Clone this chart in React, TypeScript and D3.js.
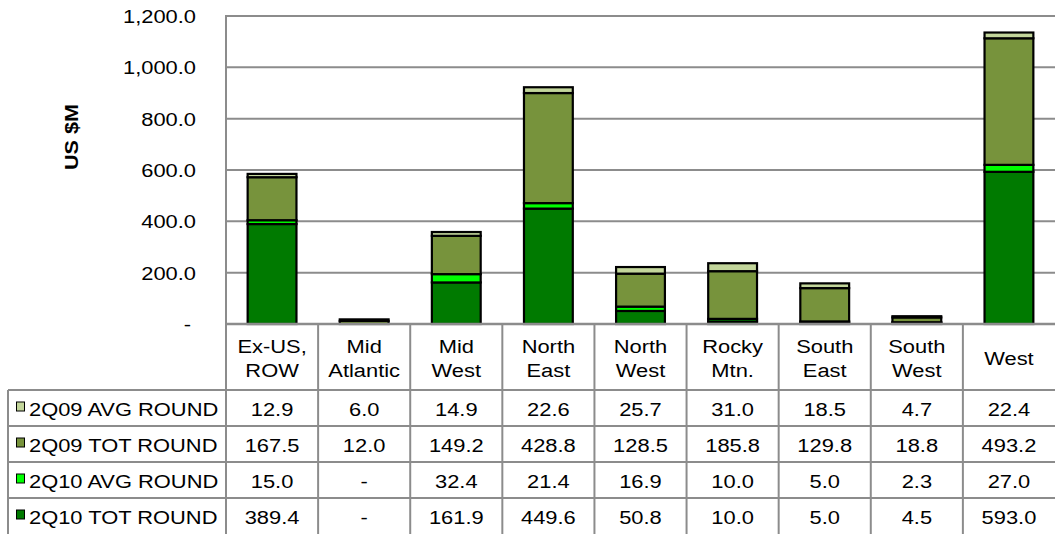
import React from "react";
import * as d3 from "d3";

const categories = [["Ex-US,", "ROW"], ["Mid", "Atlantic"], ["Mid", "West"], ["North", "East"], ["North", "West"], ["Rocky", "Mtn."], ["South", "East"], ["South", "West"], ["West"]];
const seriesNames = ["2Q10 TOT ROUND", "2Q10 AVG ROUND", "2Q09 TOT ROUND", "2Q09 AVG ROUND"];
const tot2Q10 = [389.4, 0, 161.9, 449.6, 50.8, 10.0, 5.0, 4.5, 593.0];
const avg2Q10 = [15.0, 0, 32.4, 21.4, 16.9, 10.0, 5.0, 2.3, 27.0];
const tot2Q09 = [167.5, 12.0, 149.2, 428.8, 128.5, 185.8, 129.8, 18.8, 493.2];
const avg2Q09 = [12.9, 6.0, 14.9, 22.6, 25.7, 31.0, 18.5, 4.7, 22.4];
const colors = ["#007A00", "#00FF00", "#77933C", "#C3D69B"];
const yTicks = [0, 200, 400, 600, 800, 1000, 1200];
const tableText2Q10Tot = ["389.4", "-", "161.9", "449.6", "50.8", "10.0", "5.0", "4.5", "593.0"];
const tableText2Q10Avg = ["15.0", "-", "32.4", "21.4", "16.9", "10.0", "5.0", "2.3", "27.0"];

const SX = 1.14;
const FS = 19.2;

function T({ x, y, anchor = "start", children, size = FS, weight = "normal" }: any) {
  return (
    <text transform={`translate(${x},${y}) scale(${SX},1)`} textAnchor={anchor} fontSize={size} fontWeight={weight} fill="#000">
      {children}
    </text>
  );
}

export default function App() {
  const W = 1055, H = 534;
  const left = 226, right = 1055, top = 16, bottom = 324;
  const font = "'Liberation Sans', Arial, sans-serif";
  const x = d3.scaleBand().domain(categories.map((_, i) => String(i))).range([left, right]).paddingInner(0).paddingOuter(0);
  const y = d3.scaleLinear().domain([0, 1200]).range([bottom, top]);
  const data = categories.map((_, i) => ({ a: tot2Q10[i], b: avg2Q10[i], c: tot2Q09[i], d: avg2Q09[i] }));
  const stack = d3.stack<any>().keys(["a", "b", "c", "d"]);
  const layers = stack(data);
  const bw = x.bandwidth() * 0.53;
  const fmt = (v: number) => (v === 0 ? "-" : d3.format(",.1f")(v));

  const rowsY = [390, 426, 462, 498, 534];
  const tableRows = [
    { name: seriesNames[3], color: colors[3], vals: avg2Q09.map((v) => v.toFixed(1)) },
    { name: seriesNames[2], color: colors[2], vals: tot2Q09.map((v) => v.toFixed(1)) },
    { name: seriesNames[1], color: colors[1], vals: tableText2Q10Avg },
    { name: seriesNames[0], color: colors[0], vals: tableText2Q10Tot },
  ];
  const grid = "#8C8C8C";

  return (
    <svg width={W} height={H} style={{ position: "absolute", left: 0, top: 0, background: "#fff" }} fontFamily={font}>
      {yTicks.filter((t) => t > 0).map((t) => (
        <line key={t} x1={left} x2={right} y1={y(t)} y2={y(t)} stroke={grid} strokeWidth={2} />
      ))}
      <line x1={left} x2={left} y1={top - 1} y2={bottom} stroke={grid} strokeWidth={2} />
      {yTicks.map((t) => (
        <T key={t} x={t === 0 ? 191 : 196} y={y(t) + 7} anchor="end">{fmt(t)}</T>
      ))}
      <text transform={`translate(78,137) rotate(-90) scale(${SX},1)`} textAnchor="middle" fontSize={19} fontWeight="bold">US $M</text>
      {layers.map((layer, li) => (
        <g key={li}>
          {layer.map((d, i) => {
            const h = y(d[0]) - y(d[1]);
            if (h <= 0) return null;
            const cx = (x(String(i)) as number) + x.bandwidth() / 2;
            return (
              <rect key={i} x={cx - bw / 2} y={y(d[1])} width={bw} height={h} fill={colors[li]} stroke="#000" strokeWidth={2.2} />
            );
          })}
        </g>
      ))}
      <line x1={left} x2={right} y1={bottom} y2={bottom} stroke={grid} strokeWidth={2.5} />
      {categories.map((_, i) => (
        <line key={i} x1={(x(String(i)) as number)} x2={(x(String(i)) as number)} y1={bottom} y2={H} stroke={grid} strokeWidth={2} />
      ))}
      <line x1={8} x2={8} y1={rowsY[0]} y2={H} stroke={grid} strokeWidth={2} />
      {rowsY.slice(0, 4).map((ry) => (
        <line key={ry} x1={8} x2={right} y1={ry} y2={ry} stroke={grid} strokeWidth={2} />
      ))}
      {categories.map((c, i) => {
        const cx = (x(String(i)) as number) + x.bandwidth() / 2;
        return c.length === 2 ? (
          <g key={i}>
            <T x={cx} y={353} anchor="middle">{c[0]}</T>
            <T x={cx} y={377} anchor="middle">{c[1]}</T>
          </g>
        ) : (
          <T key={i} x={cx} y={365} anchor="middle">{c[0]}</T>
        );
      })}
      {tableRows.map((r, ri) => {
        const cy = (rowsY[ri] + rowsY[ri + 1]) / 2 + 7.5;
        return (
          <g key={ri}>
            <rect x={16.5} y={cy - 13.5} width={8} height={9} fill={r.color} stroke="#000" strokeWidth={1} />
            <T x={29} y={cy}>{r.name}</T>
            {r.vals.map((v, i) => {
              const cx = (x(String(i)) as number) + x.bandwidth() / 2;
              return <T key={i} x={cx} y={cy} anchor="middle">{v}</T>;
            })}
          </g>
        );
      })}
    </svg>
  );
}
